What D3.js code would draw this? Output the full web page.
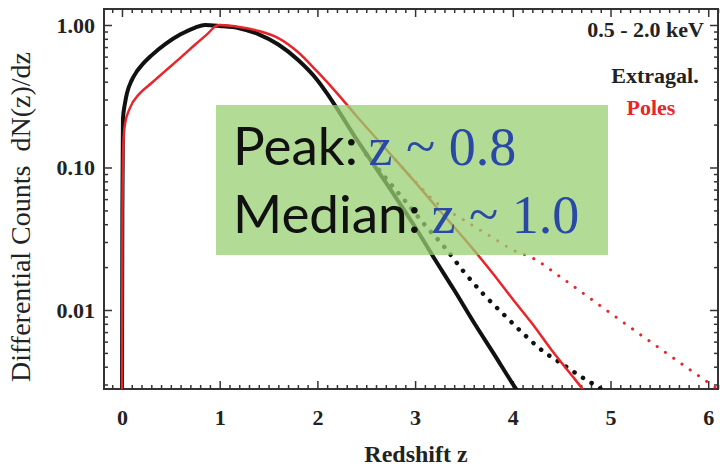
<!DOCTYPE html>
<html>
<head>
<meta charset="utf-8">
<script src="https://cdn.jsdelivr.net/npm/d3@7"></script>
<style>
  body { margin: 0; background: #fff; }
  svg text { font-family: "Liberation Serif", "Times New Roman", serif; }
</style>
</head>
<body>
<svg id="chart" width="720" height="470"></svg>
<script>
// redshift grid + counts
const extragalZ = [0, 0.004, 0.01, 0.03, 0.05, 0.1, 0.15, 0.2, 0.3, 0.45, 0.6, 0.75, 0.85, 1.0, 1.2, 1.4, 1.6, 1.8, 2.0, 2.1, 2.2, 2.4, 2.6, 2.8, 3.0, 3.2, 3.4, 3.6, 3.8, 4.04, 4.1]
const extragalN = [0.0025, 0.05, 0.22, 0.28, 0.33, 0.41, 0.47, 0.52, 0.61, 0.74, 0.86, 0.96, 1.0, 0.985, 0.95, 0.86, 0.73, 0.57, 0.41, 0.33, 0.26, 0.158, 0.099, 0.062, 0.0382, 0.0228, 0.0138, 0.0082, 0.005, 0.00275, 0.0024]

const polesZ = [0, 0.005, 0.015, 0.03, 0.08, 0.18, 0.3, 0.45, 0.6, 0.75, 0.87, 0.97, 1.0, 1.2, 1.4, 1.6, 1.8, 2.0, 2.2, 2.4, 2.6, 2.8, 3.0, 3.2, 3.4, 3.6, 3.8, 4.0, 4.2, 4.4, 4.6, 4.72, 4.8]
const polesN = [0.0025, 0.05, 0.15, 0.2, 0.26, 0.33, 0.39, 0.48, 0.59, 0.73, 0.86, 0.99, 1.0, 0.968, 0.908, 0.81, 0.647, 0.47, 0.333, 0.23, 0.161, 0.113, 0.079, 0.0546, 0.0382, 0.0264, 0.0179, 0.0119, 0.008, 0.0052, 0.0035, 0.00275, 0.0023]

// dotted variants (branch off at high z)
const extragalAltZ = [2.5, 2.7, 2.9, 3.1, 3.3, 3.5, 3.7, 3.9, 4.1, 4.3, 4.5, 4.7, 4.9, 5.0]
const extragalAltN = [0.124, 0.084, 0.058, 0.0395, 0.0277, 0.0185, 0.0129, 0.0094, 0.0069, 0.0052, 0.0042, 0.0034, 0.0028, 0.0025]

const polesAltZ = [2.8, 3.0, 3.2, 3.5, 3.8, 4.0, 4.2, 4.5, 5.0, 5.5, 6.0, 6.2]
const polesAltN = [0.113, 0.080, 0.058, 0.0428, 0.032, 0.0264, 0.0232, 0.0168, 0.0095, 0.0054, 0.0031, 0.0025]

const xTicks = [0, 1, 2, 3, 4, 5, 6]
const yTicks = [1, 0.1, 0.01]

const svg = d3.select("#chart")
const pLeft = 104, pRight = 718, pTop = 9, pBottom = 389

const x = d3.scaleLinear().domain([-0.184, 6.1]).range([pLeft, pRight])
const y = d3.scaleLog().domain([0.00279, 1.295]).range([pBottom, pTop])

// minor ticks
const xMinor = d3.range(-1, 62).map(d => d / 10).filter(d => d >= x.domain()[0] && d <= x.domain()[1] && !xTicks.includes(d))
let yMinor = []
;[0.001, 0.01, 0.1, 1].forEach(dec => {
    for (let k = 2; k <= 9; k++) {
        let v = dec * k
        if (v >= y.domain()[0] && v <= y.domain()[1]) yMinor.push(v)
    }
})

function styleAxis(g) {
    g.select(".domain").remove()
    g.selectAll(".tick line").attr("stroke", "#333").attr("stroke-width", 1.5)
    g.selectAll(".tick text")
        .attr("fill", "#222")
        .style("font-size", "22px")
        .style("font-weight", "bold")
}

// bottom axis
svg.append("g").attr("transform", "translate(0," + pBottom + ")")
    .call(d3.axisBottom(x).tickValues(xTicks).tickSize(-8).tickPadding(20).tickFormat(d3.format("d")))
    .call(styleAxis)
svg.append("g").attr("transform", "translate(0," + pBottom + ")")
    .call(d3.axisBottom(x).tickValues(xMinor).tickSize(-4).tickFormat(""))
    .call(styleAxis)
// top axis
svg.append("g").attr("transform", "translate(0," + pTop + ")")
    .call(d3.axisTop(x).tickValues(xTicks).tickSize(-8).tickFormat(""))
    .call(styleAxis)
svg.append("g").attr("transform", "translate(0," + pTop + ")")
    .call(d3.axisTop(x).tickValues(xMinor).tickSize(-4).tickFormat(""))
    .call(styleAxis)
// left axis
svg.append("g").attr("transform", "translate(" + pLeft + ",0)")
    .call(d3.axisLeft(y).tickValues(yTicks).tickSize(-8).tickPadding(9).tickFormat(d3.format(".2f")))
    .call(styleAxis)
svg.append("g").attr("transform", "translate(" + pLeft + ",0)")
    .call(d3.axisLeft(y).tickValues(yMinor).tickSize(-4).tickFormat(""))
    .call(styleAxis)
// right axis
svg.append("g").attr("transform", "translate(" + pRight + ",0)")
    .call(d3.axisRight(y).tickValues(yTicks).tickSize(-8).tickFormat(""))
    .call(styleAxis)
svg.append("g").attr("transform", "translate(" + pRight + ",0)")
    .call(d3.axisRight(y).tickValues(yMinor).tickSize(-4).tickFormat(""))
    .call(styleAxis)

// frame
svg.append("rect")
    .attr("x", pLeft).attr("y", pTop)
    .attr("width", pRight - pLeft).attr("height", pBottom - pTop)
    .attr("fill", "none").attr("stroke", "#333").attr("stroke-width", 2)

svg.append("clipPath").attr("id", "plotClip")
    .append("rect").attr("x", pLeft).attr("y", pTop).attr("width", pRight - pLeft).attr("height", pBottom - pTop)

const line = d3.line()
    .x(d => x(d[0]))
    .y(d => y(d[1]))
    .curve(d3.curveMonotoneX)

const plot = svg.append("g").attr("clip-path", "url(#plotClip)")

plot.append("path")
    .attr("d", line(d3.zip(polesAltZ, polesAltN)))
    .attr("fill", "none").attr("stroke", "#e8262a").attr("stroke-width", 3)
    .attr("stroke-linecap", "round").attr("stroke-dasharray", "0.1 10")
plot.append("path")
    .attr("d", line(d3.zip(extragalAltZ, extragalAltN)))
    .attr("fill", "none").attr("stroke", "#111").attr("stroke-width", 4.5)
    .attr("stroke-linecap", "round").attr("stroke-dasharray", "0.1 10")
plot.append("path")
    .attr("d", line(d3.zip(extragalZ, extragalN)))
    .attr("fill", "none").attr("stroke", "#111").attr("stroke-width", 4)
plot.append("path")
    .attr("d", line(d3.zip(polesZ, polesN)))
    .attr("fill", "none").attr("stroke", "#e8262a").attr("stroke-width", 2.5)

// axis titles
svg.append("text")
    .attr("x", 416).attr("y", 462)
    .attr("text-anchor", "middle")
    .style("font-size", "24px").style("font-weight", "bold").attr("fill", "#222")
    .text("Redshift z")
svg.append("text")
    .attr("transform", "translate(30,217) rotate(-90)")
    .attr("text-anchor", "middle")
    .style("font-size", "28px").attr("fill", "#222")
    .text("Differential Counts\u00a0\u00a0dN(z)/dz")

// legend texts
svg.append("text").attr("x", 704).attr("y", 37).attr("text-anchor", "end")
    .style("font-size", "22px").style("font-weight", "bold").attr("fill", "#222")
    .text("0.5 - 2.0 keV")
svg.append("text").attr("x", 655).attr("y", 83).attr("text-anchor", "middle")
    .style("font-size", "22px").style("font-weight", "bold").attr("fill", "#222")
    .text("Extragal.")
svg.append("text").attr("x", 651).attr("y", 115).attr("text-anchor", "middle")
    .style("font-size", "22px").style("font-weight", "bold").attr("fill", "#e8262a")
    .text("Poles")

// annotation box
svg.append("rect")
    .attr("x", 216).attr("y", 105).attr("width", 392).attr("height", 150)
    .attr("fill", "#98d072").attr("opacity", 0.75)

const notes = [["Peak: ", "z ~ 0.8", 165], ["Median: ", "z ~ 1.0", 233]]
notes.forEach(n => {
    let t = svg.append("text").attr("x", 233).attr("y", n[2])
    t.append("tspan").style("font-family", "Lato, 'Open Sans', sans-serif").style("font-size", "53px").attr("fill", "#111").text(n[0])
    t.append("tspan").attr("dx", -3).style("font-family", "'Liberation Serif', serif").style("font-size", "54px").attr("fill", "#2a48a6").text(n[1])
})
</script>
</body>
</html>
